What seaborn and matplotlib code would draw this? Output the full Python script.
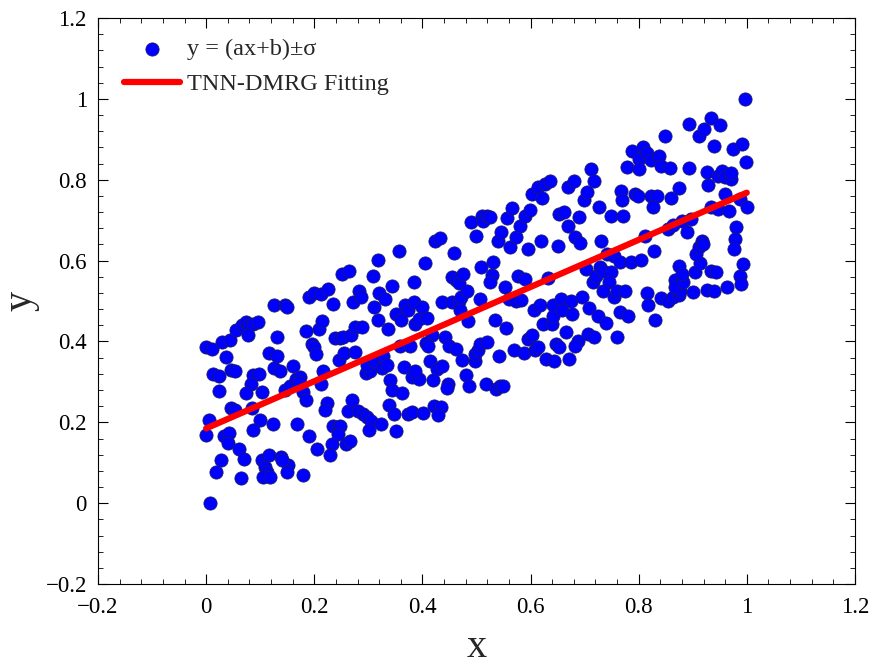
import numpy as np
import pandas as pd
import matplotlib
matplotlib.use("Agg")
import matplotlib.pyplot as plt
from matplotlib.ticker import MultipleLocator, AutoMinorLocator, FuncFormatter
import seaborn as sns

# ---- data ----
x_pts = [
    0.007, 0.0, 0.005, 0.0, 0.010, 0.013, 0.023, 0.023, 0.036, 0.030, 0.044, 0.046, 0.053, 0.033, 0.043, 0.040,
    0.028, 0.019, 0.060, 0.070, 0.065, 0.046, 0.054, 0.056, 0.066, 0.073, 0.079, 0.086, 0.096, 0.078, 0.087, 0.098,
    0.083, 0.074, 0.103, 0.085, 0.099, 0.087, 0.103, 0.109, 0.113, 0.106, 0.119, 0.117, 0.123,
    0.125, 0.146, 0.149, 0.132, 0.116, 0.131, 0.126, 0.136, 0.160, 0.139, 0.152, 0.149, 0.141, 0.146, 0.156, 0.166,
    0.174, 0.179, 0.184, 0.172, 0.168, 0.180, 0.191, 0.205, 0.185, 0.209, 0.215, 0.195, 0.199, 0.204, 0.191, 0.200,
    0.212, 0.225, 0.235, 0.217, 0.213, 0.224, 0.220, 0.235, 0.244, 0.248, 0.244, 0.232, 0.230,
    0.252, 0.264, 0.238, 0.248, 0.253, 0.268, 0.275, 0.288, 0.245, 0.255, 0.275, 0.272, 0.283, 0.286, 0.308, 0.317,
    0.311, 0.318, 0.319, 0.331, 0.343, 0.336, 0.262, 0.270, 0.281, 0.291, 0.298, 0.305, 0.323, 0.301, 0.258, 0.266,
    0.295, 0.303, 0.298, 0.311, 0.328, 0.325, 0.334, 0.341, 0.344, 0.363, 0.338, 0.348, 0.351, 0.356, 0.384, 0.351,
    0.361, 0.368, 0.374, 0.358, 0.377, 0.366,
    0.404, 0.423, 0.432, 0.458, 0.385, 0.399, 0.387, 0.394, 0.409, 0.417, 0.407, 0.411, 0.414, 0.427, 0.437, 0.381,
    0.394, 0.387, 0.419, 0.447, 0.445, 0.374, 0.381, 0.401, 0.421, 0.434, 0.429, 0.436, 0.454, 0.467, 0.470, 0.454,
    0.462, 0.467, 0.475, 0.472, 0.482, 0.442, 0.450, 0.462, 0.474, 0.485, 0.480, 0.487, 0.498, 0.497, 0.503, 0.507,
    0.520, 0.490, 0.500, 0.511, 0.513, 0.520, 0.525, 0.509, 0.507,
    0.530, 0.528, 0.526, 0.540, 0.546, 0.556, 0.566, 0.553, 0.560, 0.573, 0.583, 0.576, 0.589, 0.562, 0.573, 0.581,
    0.589, 0.599, 0.517, 0.536, 0.543, 0.550, 0.535, 0.555, 0.542, 0.570, 0.588, 0.596, 0.619, 0.603, 0.613, 0.621,
    0.626, 0.636, 0.606, 0.617, 0.623, 0.639, 0.641, 0.642, 0.596, 0.603, 0.609, 0.613, 0.628, 0.644, 0.632,
    0.650, 0.652, 0.662, 0.669, 0.669, 0.681, 0.682, 0.692, 0.690, 0.699, 0.705, 0.712, 0.717, 0.656, 0.674, 0.659,
    0.677, 0.666, 0.648, 0.652, 0.672, 0.687, 0.683, 0.695, 0.709, 0.702, 0.715, 0.721, 0.728, 0.735, 0.748, 0.745,
    0.735, 0.754, 0.760, 0.775, 0.725, 0.740, 0.707, 0.717, 0.760, 0.730, 0.727, 0.742, 0.755, 0.748, 0.772, 0.765,
    0.781, 0.765, 0.768, 0.770,
    0.778, 0.788, 0.801, 0.801, 0.808, 0.816, 0.823, 0.838, 0.841, 0.858, 0.793, 0.798, 0.823, 0.834, 0.826, 0.785,
    0.805, 0.811, 0.828, 0.816, 0.818, 0.831, 0.841, 0.854, 0.864, 0.874, 0.877, 0.848, 0.860, 0.874, 0.854, 0.864,
    0.881, 0.897, 0.889, 0.868, 0.868, 0.882, 0.875, 0.881, 0.893, 0.894, 0.901, 0.904, 0.914, 0.907, 0.911, 0.917,
    0.919,
    0.911, 0.921, 0.934, 0.950, 0.939, 0.926, 0.928, 0.947, 0.954, 0.960, 0.970, 0.970, 0.934, 0.947, 0.959, 0.967,
    0.974, 0.992, 0.998, 0.987, 1.000, 0.981, 0.979, 0.977, 0.927, 0.940, 0.964, 0.934, 0.944, 0.987, 0.993, 0.990,
    0.997,
]
y_pts = [
    0.000, 0.168, 0.205, 0.386, 0.382, 0.320, 0.314, 0.277, 0.361, 0.398, 0.404, 0.236, 0.230, 0.165, 0.174, 0.149,
    0.106, 0.077, 0.135, 0.110, 0.063, 0.330, 0.326, 0.429, 0.440, 0.448, 0.440, 0.444, 0.448, 0.415, 0.316, 0.320,
    0.295, 0.273, 0.275, 0.236, 0.205, 0.180, 0.106, 0.090, 0.077, 0.065, 0.065, 0.119, 0.197,
    0.489, 0.491, 0.485, 0.411, 0.371, 0.363, 0.335, 0.328, 0.340, 0.114, 0.094, 0.077, 0.106, 0.281, 0.291, 0.308,
    0.312, 0.275, 0.256, 0.300, 0.197, 0.069, 0.165, 0.133, 0.427, 0.431, 0.450, 0.394, 0.386, 0.370, 0.511, 0.519,
    0.518, 0.530, 0.493, 0.326, 0.295, 0.248, 0.230, 0.190, 0.188, 0.190, 0.172, 0.146, 0.119,
    0.567, 0.574, 0.409, 0.409, 0.411, 0.415, 0.435, 0.435, 0.353, 0.371, 0.374, 0.497, 0.524, 0.509, 0.563, 0.602,
    0.486, 0.452, 0.521, 0.505, 0.536, 0.431, 0.228, 0.254, 0.228, 0.221, 0.213, 0.203, 0.197, 0.180, 0.147, 0.154,
    0.322, 0.327, 0.341, 0.351, 0.365, 0.335, 0.343, 0.304, 0.281, 0.273, 0.242, 0.220, 0.179, 0.623, 0.548, 0.468,
    0.452, 0.491, 0.477, 0.390, 0.390, 0.338,
    0.593, 0.648, 0.655, 0.618, 0.497, 0.485, 0.444, 0.456, 0.458, 0.417, 0.396, 0.390, 0.351, 0.333, 0.339, 0.312,
    0.308, 0.328, 0.304, 0.295, 0.286, 0.221, 0.226, 0.223, 0.240, 0.238, 0.219, 0.497, 0.497, 0.501, 0.478, 0.559,
    0.551, 0.544, 0.567, 0.509, 0.524, 0.412, 0.390, 0.382, 0.355, 0.450, 0.316, 0.291, 0.351, 0.370, 0.378, 0.394,
    0.398, 0.695, 0.662, 0.711, 0.699, 0.711, 0.709, 0.584, 0.505,
    0.596, 0.565, 0.547, 0.648, 0.670, 0.705, 0.730, 0.534, 0.505, 0.501, 0.503, 0.563, 0.555, 0.633, 0.658, 0.685,
    0.711, 0.725, 0.294, 0.283, 0.289, 0.289, 0.453, 0.434, 0.363, 0.378, 0.371, 0.629, 0.649, 0.765, 0.781, 0.756,
    0.789, 0.796, 0.478, 0.491, 0.444, 0.444, 0.464, 0.491, 0.407, 0.415, 0.379, 0.386, 0.357, 0.351, 0.557,
    0.637, 0.715, 0.721, 0.686, 0.783, 0.796, 0.659, 0.643, 0.709, 0.750, 0.769, 0.826, 0.798, 0.505, 0.500, 0.477,
    0.468, 0.423, 0.394, 0.386, 0.357, 0.402, 0.390, 0.509, 0.483, 0.579, 0.547, 0.563, 0.584, 0.575, 0.571, 0.547,
    0.526, 0.509, 0.526, 0.524, 0.464, 0.445, 0.419, 0.412, 0.411, 0.649, 0.732, 0.616, 0.612, 0.711, 0.711, 0.472,
    0.464, 0.596, 0.773, 0.750,
    0.832, 0.872, 0.851, 0.826, 0.880, 0.867, 0.849, 0.859, 0.835, 0.829, 0.765, 0.760, 0.760, 0.760, 0.733, 0.596,
    0.602, 0.662, 0.625, 0.519, 0.491, 0.452, 0.508, 0.501, 0.509, 0.514, 0.526, 0.909, 0.756, 0.779, 0.678, 0.689,
    0.699, 0.703, 0.672, 0.551, 0.534, 0.547, 0.587, 0.567, 0.829, 0.937, 0.522, 0.571, 0.593, 0.616, 0.633, 0.649,
    0.641,
    0.909, 0.925, 0.952, 0.936, 0.884, 0.818, 0.788, 0.810, 0.822, 0.806, 0.802, 0.816, 0.733, 0.728, 0.765, 0.722,
    0.876, 0.888, 0.843, 0.752, 0.733, 0.684, 0.653, 0.629, 0.528, 0.526, 0.534, 0.575, 0.571, 0.563, 0.592, 0.542,
    0.999,
]
fit_x = [0.0, 1.0]
fit_y = [0.185, 0.768]

scatter_label = "y = (ax+b)\u00b1\u03c3"
fit_label = "TNN-DMRG Fitting"
x_ticks = [-0.2, 0.0, 0.2, 0.4, 0.6, 0.8, 1.0, 1.2]
y_ticks = [-0.2, 0.0, 0.2, 0.4, 0.6, 0.8, 1.0, 1.2]

n = min(len(x_pts), len(y_pts))
df = pd.DataFrame({"x": x_pts[:n], "y": y_pts[:n]})
fit = pd.DataFrame({"x": fit_x, "y": fit_y})

sns.set_style("ticks")
plt.rcParams["font.family"] = ["Liberation Serif", "DejaVu Serif"]
plt.rcParams["mathtext.fontset"] = "stix"

fig = plt.figure(figsize=(8.75, 6.69), dpi=100)
ax = fig.add_axes([0.112, 0.127, 0.865, 0.846])

sns.scatterplot(data=df, x="x", y="y", ax=ax, s=90, color="#0000FF",
                edgecolor="#1a1a6e", linewidth=0.6, label=scatter_label, zorder=2)
sns.lineplot(data=fit, x="x", y="y", ax=ax, color="#FF0000", linewidth=4.5,
             label=fit_label, zorder=3)

ax.set_xlim(-0.2, 1.2)
ax.set_ylim(-0.2, 1.2)
ax.set_xticks(x_ticks)
ax.set_yticks(y_ticks)
fmt = FuncFormatter(lambda v, p: ("%g" % round(v, 2)).replace("-", "\u2212"))
ax.xaxis.set_major_formatter(fmt)
ax.yaxis.set_major_formatter(fmt)
ax.xaxis.set_minor_locator(AutoMinorLocator(5))
ax.yaxis.set_minor_locator(AutoMinorLocator(5))
ax.tick_params(which="both", direction="in", top=True, right=True, labelsize=16.5, colors="black")
ax.tick_params(which="major", length=7, width=0.8)
ax.tick_params(which="minor", length=3.5, width=0.6)
ax.tick_params(axis="x", which="major", pad=9)
ax.tick_params(axis="y", which="major", pad=8)
for sp in ax.spines.values():
    sp.set_visible(True)
    sp.set_linewidth(0.8)
    sp.set_color("black")

ax.set_xlabel("x", fontsize=29, labelpad=8)
ax.set_ylabel("y", fontsize=29, labelpad=4)

leg = ax.legend(loc="upper left", bbox_to_anchor=(0.012, 0.995), frameon=False,
                fontsize=17.5, handlelength=2.3, handletextpad=0.3, labelspacing=0.55,
                borderaxespad=0.3)

fig.savefig("out.png", dpi=100)
